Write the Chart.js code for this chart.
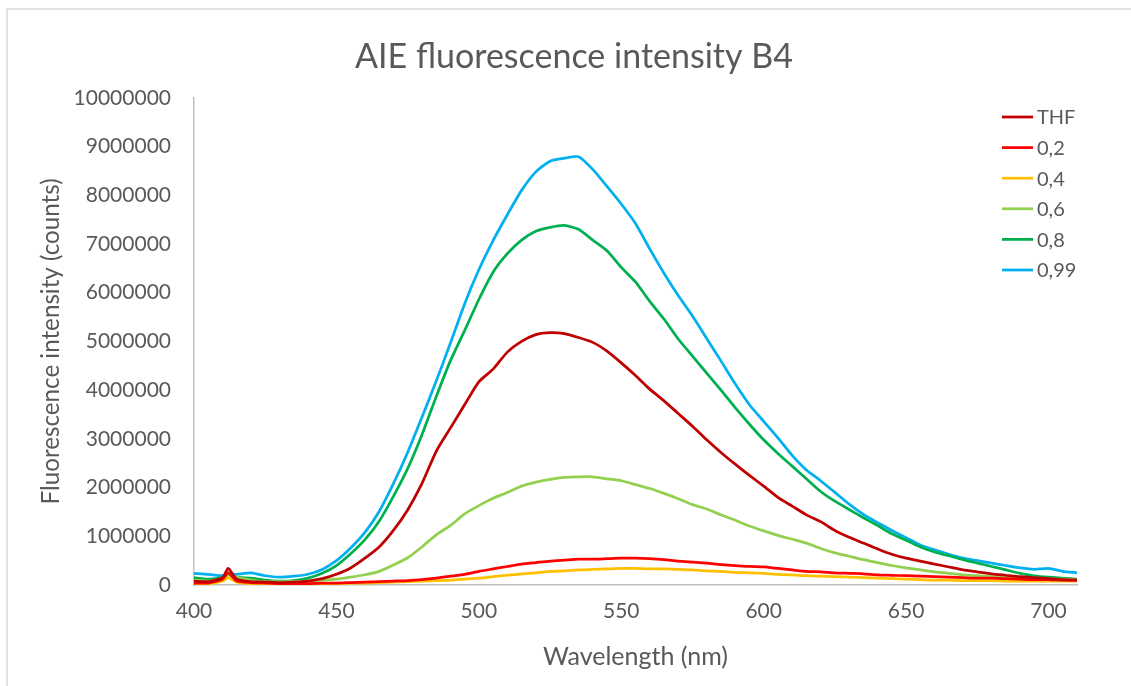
<!DOCTYPE html>
<html>
<head>
<meta charset="utf-8">
<script src="https://cdn.jsdelivr.net/npm/chart.js@4.4.1/dist/chart.umd.min.js"></script>
<style>
html,body{margin:0;padding:0;background:#fff;}
#wrap{width:1131px;height:686px;position:relative;}
</style>
</head>
<body>
<div id="wrap"><canvas id="c" width="1131" height="686"></canvas></div>
<script>
const wavelengths = [400,405,410,412,415,420,425,430,435,440,445,450,455,460,465,470,475,480,485,490,495,500,505,510,515,520,525,530,535,540,545,550,555,560,565,570,575,580,585,590,595,600,605,610,615,620,625,630,635,640,645,650,655,660,665,670,675,680,685,690,695,700,705,710];

const seriesNames = ["THF","0,2","0,4","0,6","0,8","0,99"];

const thf = [80000,70000,150000,340000,120000,70000,60000,50000,60000,80000,
 130000,220000,350000,550000,780000,1120000,1540000,2080000,2740000,3220000,
 3700000,4170000,4430000,4780000,5000000,5140000,5180000,5160000,5080000,4980000,
 4800000,4560000,4300000,4020000,3780000,3520000,3260000,2980000,2720000,2480000,
 2250000,2030000,1800000,1620000,1440000,1300000,1120000,980000,860000,740000,
 630000,550000,490000,430000,370000,310000,270000,230000,200000,170000,
 150000,130000,110000,100000];

const s02 = [40000,40000,120000,250000,80000,50000,40000,30000,30000,30000,
 40000,40000,50000,60000,70000,80000,90000,110000,140000,180000,
 220000,280000,330000,380000,430000,460000,490000,510000,530000,530000,
 540000,550000,550000,540000,520000,490000,470000,450000,420000,400000,
 380000,370000,340000,310000,280000,270000,250000,240000,230000,210000,
 200000,190000,180000,170000,160000,150000,140000,140000,130000,120000,
 110000,110000,100000,100000];

const s04 = [30000,30000,80000,150000,60000,30000,20000,20000,20000,20000,
 30000,30000,40000,40000,50000,60000,70000,80000,90000,100000,
 120000,140000,170000,200000,230000,250000,280000,290000,310000,320000,
 330000,340000,340000,330000,330000,320000,310000,290000,280000,260000,
 250000,240000,220000,210000,190000,180000,170000,160000,150000,140000,
 130000,120000,110000,100000,100000,90000,90000,90000,80000,80000,
 80000,80000,80000,80000];

const s06 = [100000,80000,140000,220000,160000,100000,70000,70000,70000,80000,
 100000,120000,160000,210000,280000,410000,560000,780000,1030000,1220000,
 1460000,1630000,1780000,1900000,2030000,2110000,2170000,2210000,2220000,2220000,
 2180000,2140000,2060000,1980000,1880000,1770000,1650000,1560000,1440000,1330000,
 1210000,1110000,1020000,940000,860000,750000,660000,590000,520000,460000,
 400000,350000,310000,270000,240000,210000,190000,170000,150000,140000,
 130000,120000,120000,110000];

const s08 = [150000,120000,150000,220000,160000,140000,100000,80000,90000,140000,
 240000,400000,640000,930000,1310000,1820000,2390000,3080000,3860000,4600000,
 5220000,5860000,6420000,6800000,7080000,7260000,7340000,7380000,7300000,7080000,
 6860000,6520000,6220000,5820000,5460000,5050000,4700000,4350000,4000000,3640000,
 3300000,2980000,2700000,2440000,2180000,1920000,1720000,1550000,1380000,1220000,
 1050000,920000,780000,680000,600000,520000,450000,380000,310000,240000,
 190000,160000,140000,120000];

const s099 = [240000,220000,190000,210000,220000,250000,190000,160000,180000,220000,
 320000,500000,760000,1080000,1510000,2080000,2720000,3440000,4180000,4960000,
 5770000,6470000,7070000,7600000,8100000,8480000,8700000,8760000,8790000,8530000,
 8180000,7820000,7420000,6900000,6400000,5940000,5520000,5060000,4600000,4130000,
 3700000,3360000,3020000,2660000,2360000,2140000,1900000,1660000,1450000,1280000,
 1120000,970000,820000,720000,630000,550000,500000,450000,400000,350000,
 320000,340000,280000,250000];

const seriesValues = [thf, s02, s04, s06, s08, s099];
const seriesColors = ["#C00000","#FF0000","#FFC000","#92D050","#00B050","#00B0F0"];

const xTickStep = 50;
const yTickStep = 1000000;

const FONT = "Lato, 'Open Sans', sans-serif";
const TEXT = "#595959";

const datasets = seriesNames.map((name, i) => ({
  label: name,
  data: wavelengths.map((w, j) => ({x: w, y: seriesValues[i][j]})),
  borderColor: seriesColors[i],
  backgroundColor: seriesColors[i],
  borderWidth: 2.75,
  pointRadius: 0,
  tension: 0.2,
  fill: false
}));

const frame = {
  id: 'frame',
  beforeDraw(chart) {
    const ctx = chart.ctx;
    ctx.save();
    ctx.fillStyle = '#fff';
    ctx.fillRect(0, 0, chart.width, chart.height);
    ctx.strokeStyle = '#D9D9D9';
    ctx.lineWidth = 1.5;
    ctx.beginPath();
    ctx.moveTo(7, chart.height + 5);
    ctx.lineTo(7, 9);
    ctx.lineTo(chart.width + 5, 9);
    ctx.stroke();
    ctx.restore();
  }
};

const customLegend = {
  id: 'customLegend',
  afterDraw(chart) {
    const ctx = chart.ctx;
    ctx.save();
    ctx.font = "20px " + FONT;
    ctx.textBaseline = 'middle';
    ctx.textAlign = 'left';
    chart.data.datasets.forEach((ds, i) => {
      const y = 117 + i * 30.6;
      ctx.strokeStyle = ds.borderColor;
      ctx.lineWidth = 2.75;
      ctx.beginPath();
      ctx.moveTo(1002, y);
      ctx.lineTo(1033, y);
      ctx.stroke();
      ctx.fillStyle = TEXT;
      ctx.fillText(ds.label, 1037, y + 1);
    });
    ctx.restore();
  }
};

new Chart(document.getElementById('c'), {
  type: 'line',
  data: { datasets },
  options: {
    responsive: false,
    animation: false,
    devicePixelRatio: 1,
    layout: { padding: { left: 17, right: 0, top: 0, bottom: 0 } },
    plugins: {
      legend: { display: false },
      tooltip: { enabled: false },
      title: {
        display: true,
        text: 'AIE fluorescence intensity B4',
        color: TEXT,
        font: { family: FONT, size: 34, weight: 'normal', lineHeight: 1.2 },
        padding: { top: 37, bottom: 20 }
      }
    },
    scales: {
      x: {
        type: 'linear',
        min: 400,
        max: 710,
        border: { display: true, color: '#BFBFBF', width: 1.5 },
        grid: { display: false, drawTicks: false },
        ticks: {
          stepSize: xTickStep,
          includeBounds: false,
          color: TEXT,
          padding: 14,
          maxRotation: 0,
          font: { family: FONT, size: 21 }
        },
        title: {
          display: true,
          text: 'Wavelength (nm)',
          color: TEXT,
          font: { family: FONT, size: 25 },
          padding: { top: 0, bottom: 14 }
        },
        afterFit(s) { s.height = 101; }
      },
      y: {
        type: 'linear',
        min: 0,
        max: 10000000,
        border: { display: true, color: '#BFBFBF', width: 1.5 },
        grid: { display: false, drawTicks: false },
        ticks: {
          stepSize: yTickStep,
          color: TEXT,
          padding: 23,
          font: { family: FONT, size: 21 },
          callback: (v) => String(v)
        },
        title: {
          display: true,
          text: 'Fluorescence intensity (counts)',
          color: TEXT,
          font: { family: FONT, size: 24.2 },
          padding: { top: 19.5, bottom: 0 }
        },
        afterFit(s) { s.width = 177; }
      },
      ySpacer: {
        type: 'linear',
        position: 'right',
        min: 0,
        max: 1,
        border: { display: false },
        grid: { display: false, drawTicks: false },
        ticks: { display: false },
        afterFit(s) { s.width = 54; }
      }
    }
  },
  plugins: [frame, customLegend]
});
</script>
</body>
</html>
